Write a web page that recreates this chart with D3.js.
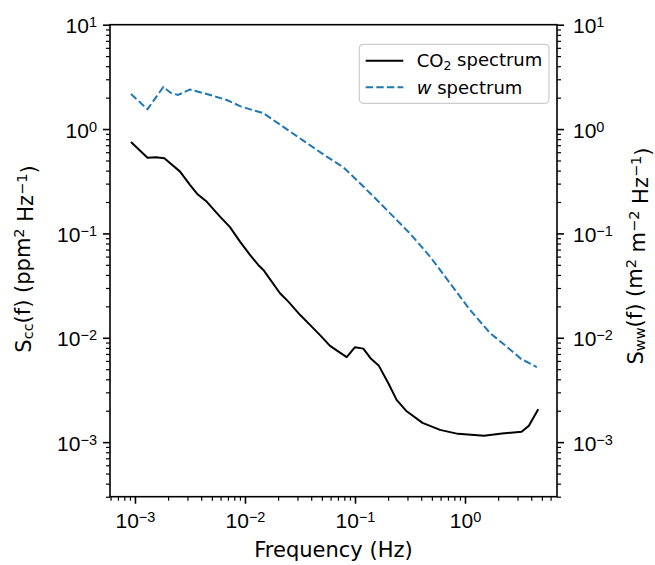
<!DOCTYPE html>
<html>
<head>
<meta charset="utf-8">
<script src="https://cdn.jsdelivr.net/npm/d3@7"></script>
<style>
  body { margin: 0; background: #fff; }
  #wrapper svg { display: block; font-family: "DejaVu Sans", sans-serif; }
  .axis .domain { display: none; }
  .axis line { stroke: #000; }
</style>
</head>
<body>
<div id="wrapper"></div>
<script>
// CO2 spectrum (Hz, ppm^2 Hz^-1)
const co2Freq = [9.2e-4, 1.30e-3, 1.55e-3, 1.85e-3, 2.57e-3, 3.16e-3, 3.68e-3, 4.48e-3, 5.93e-3, 7.31e-3,
  9.01e-3, 1.11e-2, 1.32e-2, 1.47e-2, 2.08e-2, 2.48e-2, 3.16e-2, 3.90e-2, 4.81e-2, 5.93e-2,
  8.41e-2, 0.100, 0.119, 0.140, 0.165, 0.201, 0.239, 0.291, 0.411, 0.593,
  0.863, 1.49, 2.17, 3.27, 3.82, 4.63];
const co2Values = [0.75, 0.532, 0.537, 0.525, 0.391, 0.292, 0.239, 0.202, 0.145, 0.115,
  0.0834, 0.0622, 0.0499, 0.0447, 0.0267, 0.0222, 0.0166, 0.0133, 0.0106, 0.00837,
  0.00652, 0.00813, 0.00787, 0.00628, 0.00538, 0.00367, 0.00254, 0.00200, 0.00153, 0.00131,
  0.00120, 0.00115, 0.00121, 0.00126, 0.00144, 0.00207];

// w spectrum (Hz, m^2 m^-2 Hz^-1)
const wFreq = [9.2e-4, 1.30e-3, 1.81e-3, 2.12e-3, 2.46e-3, 3.16e-3, 4.48e-3, 6.83e-3, 9.01e-3, 1.19e-2,
  1.47e-2, 2.23e-2, 3.39e-2, 5.53e-2, 7.83e-2, 0.111, 0.169, 0.256, 0.316, 0.481,
  0.731, 1.11, 1.69, 2.39, 3.23, 4.5];
const wValues = [2.17, 1.55, 2.53, 2.22, 2.12, 2.39, 2.17, 1.90, 1.66, 1.51,
  1.42, 1.05, 0.774, 0.544, 0.431, 0.303, 0.195, 0.125, 0.100, 0.060,
  0.0333, 0.0185, 0.0111, 0.00824, 0.00628, 0.00523];

const xMajorTicks = [1e-3, 1e-2, 1e-1, 1e0];
const yMajorTicks = [1e-3, 1e-2, 1e-1, 1e0, 1e1];

const seriesLabels = ["CO2 spectrum", "w spectrum"];

function drawSpectraChart() {
  const dimensions = {
    width: 655,
    height: 565,
    margin: { top: 24.7, right: 98, bottom: 68.3, left: 110 },
  };
  dimensions.boundedWidth = dimensions.width - dimensions.margin.left - dimensions.margin.right;
  dimensions.boundedHeight = dimensions.height - dimensions.margin.top - dimensions.margin.bottom;

  const wrapper = d3.select("#wrapper")
    .append("svg")
    .attr("width", dimensions.width)
    .attr("height", dimensions.height);

  const bounds = wrapper.append("g")
    .attr("transform", `translate(${dimensions.margin.left}, ${dimensions.margin.top})`);

  // scales
  const xScale = d3.scaleLog()
    .domain([5.93e-4, 6.86])
    .range([0, dimensions.boundedWidth]);

  const yScale = d3.scaleLog()
    .domain([3e-4, 10])
    .range([dimensions.boundedHeight, 0]);

  // minor ticks 2..9 x 10^k inside the domain
  const minorTicks = (scale) => {
    const [lo, hi] = scale.domain();
    const out = [];
    for (let k = -5; k <= 2; k++) {
      for (let m = 2; m <= 9; m++) {
        const v = m * Math.pow(10, k);
        if (v >= lo * 0.999 && v <= hi * 1.001) out.push(v);
      }
    }
    return out;
  };

  const supFormat = (sel) => {
    sel.selectAll(".tick text").each(function (d) {
      const t = d3.select(this);
      const exp = Math.round(Math.log10(d));
      t.text("10");
      t.append("tspan")
        .attr("dy", "-0.42em")
        .style("font-size", "14.5px")
        .text(String(exp).replace("-", "\u2212"));
    });
  };

  // x axis
  const xMinor = bounds.append("g")
    .attr("class", "axis")
    .attr("transform", `translate(0, ${dimensions.boundedHeight})`)
    .call(d3.axisBottom(xScale).tickValues(minorTicks(xScale)).tickSize(4).tickFormat(""));
  xMinor.selectAll("line").attr("stroke-width", 1.2);

  const xAxis = bounds.append("g")
    .attr("class", "axis")
    .attr("transform", `translate(0, ${dimensions.boundedHeight})`)
    .call(d3.axisBottom(xScale).tickValues(xMajorTicks).tickSize(7).tickPadding(16).tickFormat(d => d));
  xAxis.selectAll("line").attr("stroke-width", 1.6);
  xAxis.selectAll("text").attr("fill", "#000").style("font-size", "21px").attr("dy", null).attr("y", 31.3);
  xAxis.call(supFormat);

  // left y axis
  const yMinorL = bounds.append("g")
    .attr("class", "axis")
    .call(d3.axisLeft(yScale).tickValues(minorTicks(yScale)).tickSize(4).tickFormat(""));
  yMinorL.selectAll("line").attr("stroke-width", 1.2);

  const yAxisL = bounds.append("g")
    .attr("class", "axis")
    .call(d3.axisLeft(yScale).tickValues(yMajorTicks).tickSize(7).tickFormat(d => d));
  yAxisL.selectAll("line").attr("stroke-width", 1.6);
  yAxisL.selectAll("text").attr("fill", "#000").style("font-size", "21px")
    .attr("dy", null).attr("y", 8.2).attr("x", -13);
  yAxisL.call(supFormat);

  // right y axis
  const yMinorR = bounds.append("g")
    .attr("class", "axis")
    .attr("transform", `translate(${dimensions.boundedWidth}, 0)`)
    .call(d3.axisRight(yScale).tickValues(minorTicks(yScale)).tickSize(4).tickFormat(""));
  yMinorR.selectAll("line").attr("stroke-width", 1.2);

  const yAxisR = bounds.append("g")
    .attr("class", "axis")
    .attr("transform", `translate(${dimensions.boundedWidth}, 0)`)
    .call(d3.axisRight(yScale).tickValues(yMajorTicks).tickSize(7).tickFormat(d => d));
  yAxisR.selectAll("line").attr("stroke-width", 1.6);
  yAxisR.selectAll("text").attr("fill", "#000").style("font-size", "21px")
    .attr("dy", null).attr("y", 8.2).attr("x", 16);
  yAxisR.call(supFormat);

  // lines
  const clip = bounds.append("g");

  const line = d3.line()
    .x(d => xScale(d[0]))
    .y(d => yScale(d[1]));

  clip.append("path")
    .attr("d", line(d3.zip(co2Freq, co2Values)))
    .attr("fill", "none")
    .attr("stroke", "#000")
    .attr("stroke-width", 2)
    .attr("stroke-linejoin", "round");

  clip.append("path")
    .attr("d", line(d3.zip(wFreq, wValues)))
    .attr("fill", "none")
    .attr("stroke", "#1f77b4")
    .attr("stroke-width", 2)
    .attr("stroke-dasharray", "7.4,3.2");

  // spines
  bounds.append("rect")
    .attr("width", dimensions.boundedWidth)
    .attr("height", dimensions.boundedHeight)
    .attr("fill", "none")
    .attr("stroke", "#000")
    .attr("stroke-width", 1.6);

  // axis labels
  wrapper.append("text")
    .attr("x", dimensions.margin.left + dimensions.boundedWidth / 2)
    .attr("y", 557)
    .attr("text-anchor", "middle")
    .style("font-size", "21px")
    .text("Frequency (Hz)");

  const leftLabel = wrapper.append("text")
    .attr("transform", "translate(31, 259) rotate(-90)")
    .attr("text-anchor", "middle")
    .style("font-size", "21px");
  leftLabel.append("tspan").text("S");
  leftLabel.append("tspan").attr("dy", "0.15em").style("font-size", "14.5px").text("cc");
  leftLabel.append("tspan").attr("dy", "-0.15em").text("(f) (ppm");
  leftLabel.append("tspan").attr("dy", "-0.42em").style("font-size", "14.5px").text("2");
  leftLabel.append("tspan").attr("dy", "0.42em").text(" Hz");
  leftLabel.append("tspan").attr("dy", "-0.42em").style("font-size", "14.5px").text("\u22121");
  leftLabel.append("tspan").attr("dy", "0.42em").text(")");

  const rightLabel = wrapper.append("text")
    .attr("transform", "translate(643, 256) rotate(-90)")
    .attr("text-anchor", "middle")
    .style("font-size", "21px");
  rightLabel.append("tspan").text("S");
  rightLabel.append("tspan").attr("dy", "0.15em").style("font-size", "14.5px").text("ww");
  rightLabel.append("tspan").attr("dy", "-0.15em").text("(f) (m");
  rightLabel.append("tspan").attr("dy", "-0.42em").style("font-size", "14.5px").text("2");
  rightLabel.append("tspan").attr("dy", "0.42em").text(" m");
  rightLabel.append("tspan").attr("dy", "-0.42em").style("font-size", "14.5px").text("\u22122");
  rightLabel.append("tspan").attr("dy", "0.42em").text(" Hz");
  rightLabel.append("tspan").attr("dy", "-0.42em").style("font-size", "14.5px").text("\u22121");
  rightLabel.append("tspan").attr("dy", "0.42em").text(")");

  // legend
  const legend = wrapper.append("g").attr("transform", "translate(359.3, 44.3)");
  legend.append("rect")
    .attr("width", 189.7)
    .attr("height", 59)
    .attr("rx", 4)
    .attr("fill", "#fff")
    .attr("fill-opacity", 0.8)
    .attr("stroke", "#cccccc")
    .attr("stroke-width", 1.2);

  const rows = [
    { label: seriesLabels[0], color: "#000", dash: null, y: 16.4 },
    { label: seriesLabels[1], color: "#1f77b4", dash: "7.4,3.2", y: 43 },
  ];
  rows.forEach((r, i) => {
    legend.append("line")
      .attr("x1", 6.4).attr("x2", 44)
      .attr("y1", r.y).attr("y2", r.y)
      .attr("stroke", r.color)
      .attr("stroke-width", 2)
      .attr("stroke-dasharray", r.dash);
    const t = legend.append("text")
      .attr("x", 57.4)
      .attr("y", r.y + 6.4)
      .style("font-size", "18px");
    if (i === 0) {
      t.append("tspan").text("CO");
      t.append("tspan").attr("dy", "0.25em").style("font-size", "12.5px").text("2");
      t.append("tspan").attr("dy", "-0.25em").text(" spectrum");
    } else {
      t.append("tspan").style("font-style", "italic").text("w");
      t.append("tspan").text(" spectrum");
    }
  });
}

drawSpectraChart();
</script>
</body>
</html>
